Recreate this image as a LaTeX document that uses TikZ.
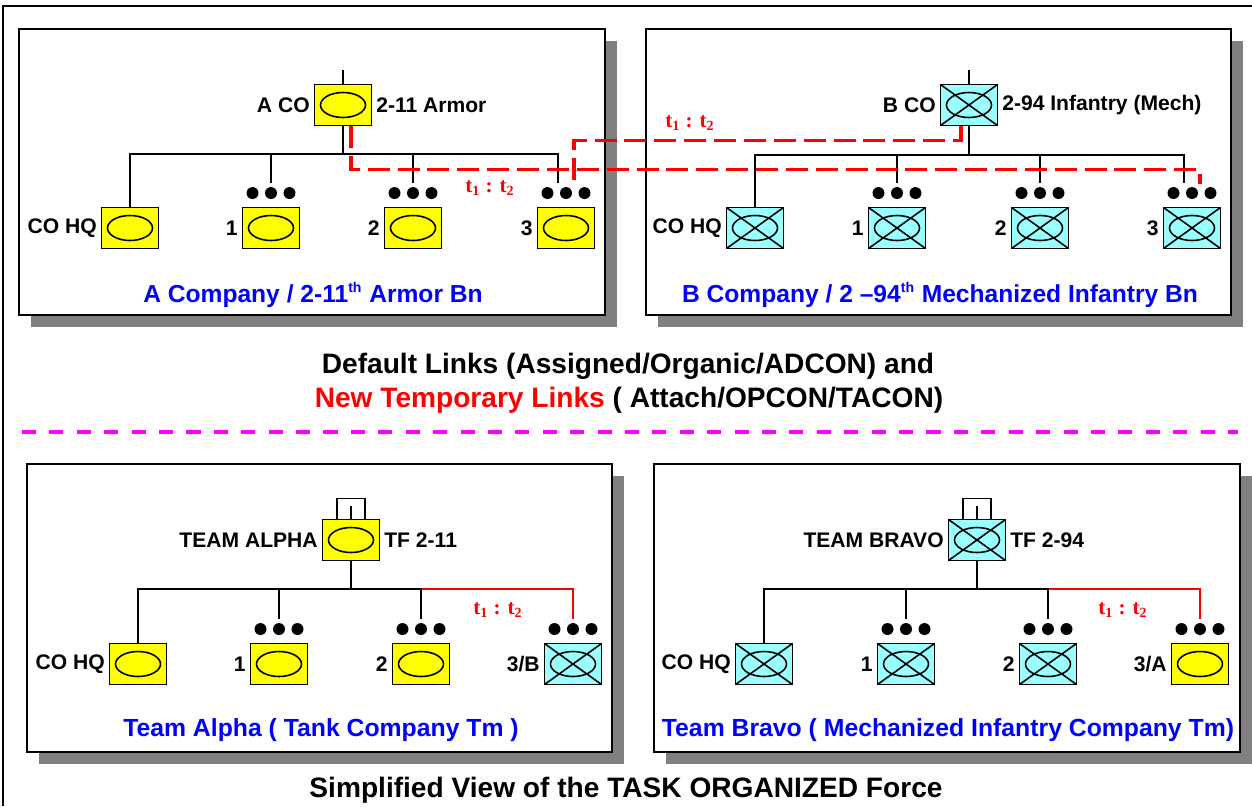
\documentclass[tikz,border=0pt]{standalone}
\usepackage{fontspec}
\setmainfont{Liberation Sans}
\newfontfamily\tfont{Liberation Serif}
\usetikzlibrary{calc}

\definecolor{armorcol}{RGB}{255,255,0}
\definecolor{mechcol}{RGB}{153,255,255}
\definecolor{shadowcol}{RGB}{128,128,128}
\definecolor{sepcol}{RGB}{255,0,255}

\newcommand{\tlabel}{{\tfont\bfseries t\textsubscript{1} : t\textsubscript{2}}}
\newcommand{\thsup}{\textsuperscript{\fontsize{8}{9}\selectfont th}}

\begin{document}
\begin{tikzpicture}[x=0.02cm,y=-0.02cm,font=\bfseries,
  unit/.style={draw,line width=1.1pt,minimum width=1.14cm,minimum height=0.82cm,inner sep=0},
  armor/.style={unit,fill=armorcol,path picture={
    \draw[line width=.9pt] (path picture bounding box.center) ellipse (0.45cm and 0.25cm);}},
  mech/.style={unit,fill=mechcol,path picture={
    \draw[line width=.9pt] (path picture bounding box.center) ellipse (0.45cm and 0.25cm);
    \draw[line width=.9pt] (path picture bounding box.north west) -- (path picture bounding box.south east);
    \draw[line width=.9pt] (path picture bounding box.south west) -- (path picture bounding box.north east);}},
  lbl/.style={font=\fontsize{12}{14}\selectfont\bfseries,inner sep=2pt},
  tree/.style={line width=1.6pt},
  tmplink/.style={red,line width=1.9pt,dash pattern=on 12.5pt off 4.5pt},
  newlink/.style={red,line width=1.4pt},
  panel/.style={draw,line width=1.5pt,fill=white},
  title/.style={blue,font=\fontsize{14}{17}\selectfont\bfseries},
  note/.style={font=\fontsize{16}{19}\selectfont\bfseries}]

\useasboundingbox (0,0) rectangle (1252,806);
\draw[line width=1pt] (3,806) -- (3,6) -- (1252,6);

% panels with shadows
\foreach \xa/\ya/\xb/\yb in {19/29/605/315, 646/29/1231/315, 27/464/612/752, 654/464/1240/752}{
  \fill[shadowcol] (\xa+12,\ya+12) rectangle (\xb+12,\yb+12);
  \draw[panel] (\xa,\ya) rectangle (\xb,\yb);
}

%% A Company
\node[armor,label={[lbl]left:A CO},label={[lbl]right:2-11 Armor}] (aco) at (343,105) {};
\node[armor,label={[lbl]left:CO HQ}] (ahq) at (130,228) {};
\node[armor,label={[lbl]left:1}] (a1) at (271,228) {};
\node[armor,label={[lbl]left:2}] (a2) at (413,228) {};
\node[armor,label={[lbl]left:3}] (a3) at (566,228) {};
\coordinate (abar) at (343,154);
\coordinate (a1end) at (271,183);
\coordinate (a2end) at (413,183);
\coordinate (a3end) at (558,183);

\draw[tree] (aco.north) -- ++(0,-14);
\draw[tree] (aco.south) -- (abar);
\draw[tree] (ahq.north) |- (abar) -| (a3end);
\draw[tree] (a1end) -- (a1end |- abar);
\draw[tree] (a2end) -- (a2end |- abar);

%% B Company
\node[mech,label={[lbl]left:B CO},label={[lbl]right:2-94 Infantry (Mech)}] (bco) at (969,105) {};
\node[mech,label={[lbl]left:CO HQ}] (bhq) at (755,228) {};
\node[mech,label={[lbl]left:1}] (b1) at (897,228) {};
\node[mech,label={[lbl]left:2}] (b2) at (1040,228) {};
\node[mech,label={[lbl]left:3}] (b3) at (1192,228) {};
\coordinate (bbar) at (969,155);
\coordinate (b1end) at (897,183);
\coordinate (b2end) at (1040,183);
\coordinate (b3end) at (1184,183);

\draw[tree] (bco.north) -- ++(0,-14);
\draw[tree] (bco.south) -- (bbar);
\draw[tree] (bhq.north) |- (bbar) -| (b3end);
\draw[tree] (b1end) -- (b1end |- bbar);
\draw[tree] (b2end) -- (b2end |- bbar);

% temporary links
\coordinate (a3tmp) at (574,185);
\coordinate (b3tmp) at (1200,184);
\draw[tmplink] ([xshift=.16cm]aco.south) -- ++(0,43) -| (b3tmp);
\draw[tmplink] ([xshift=-.16cm]bco.south) -- ++(0,14) -| (a3tmp);
\node[red,font=\fontsize{12}{14}\selectfont] (tt1) at (490,188) {\tlabel};
\node[red,font=\fontsize{12}{14}\selectfont] (tt2) at (690,123) {\tlabel};

\node[title] (atitle) at (313,295) {A Company / 2-11\thsup{} Armor Bn};
\node[title] (btitle) at (940,295) {B Company / 2 --94\thsup{} Mechanized Infantry Bn};

\node[note] (note1) at (628,366) {Default Links (Assigned/Organic/ADCON) and};
\node[note] (note2) at (629,400) {\textcolor{red}{New Temporary Links} ( Attach/OPCON/TACON)};
\draw[sepcol,line width=2pt,dash pattern=on 8pt off 7.6pt] (22,432) -- (1238,432);

%% Team Alpha
\node[armor,label={[lbl]left:TEAM ALPHA},label={[lbl]right:TF 2-11}] (tma) at (351,540) {};
\node[armor,label={[lbl]left:CO HQ}] (chq) at (138,664) {};
\node[armor,label={[lbl]left:1}] (c1) at (279,664) {};
\node[armor,label={[lbl]left:2}] (c2) at (421,664) {};
\node[mech,label={[lbl]left:3/B}] (c3) at (573,664) {};
\coordinate (cbar) at (351,589);
\coordinate (c1end) at (279,619);
\coordinate (c2end) at (421,619);
\coordinate (c3end) at (573,619);

\draw[line width=1pt] ([xshift=-.28cm]tma.north) -- ++(0,-20) -- ++(28,0) -- ++(0,20);
\draw[tree] (tma.north) -- ++(0,-13);
\draw[newlink] (cbar) -| (c3end);
\draw[tree] (tma.south) -- (cbar);
\draw[tree] (chq.north) |- (cbar) -| (c2end);
\draw[tree] (c1end) -- (c1end |- cbar);
\node[red,font=\fontsize{12}{14}\selectfont] (tt3) at (498,610) {\tlabel};
\node[title,font=\fontsize{14.1}{17}\selectfont\bfseries] (ctitle) at (321,730) {Team Alpha ( Tank Company Tm )};

%% Team Bravo
\node[mech,label={[lbl]left:TEAM BRAVO},label={[lbl]right:TF 2-94}] (tmb) at (977,540) {};
\node[mech,label={[lbl]left:CO HQ}] (dhq) at (764,664) {};
\node[mech,label={[lbl]left:1}] (d1) at (906,664) {};
\node[mech,label={[lbl]left:2}] (d2) at (1048,664) {};
\node[armor,label={[lbl]left:3/A}] (d3) at (1200,664) {};
\coordinate (dbar) at (977,589);
\coordinate (d1end) at (906,619);
\coordinate (d2end) at (1048,619);
\coordinate (d3end) at (1200,619);

\draw[line width=1pt] ([xshift=-.28cm]tmb.north) -- ++(0,-20) -- ++(28,0) -- ++(0,20);
\draw[tree] (tmb.north) -- ++(0,-13);
\draw[newlink] (dbar) -| (d3end);
\draw[tree] (tmb.south) -- (dbar);
\draw[tree] (dhq.north) |- (dbar) -| (d2end);
\draw[tree] (d1end) -- (d1end |- dbar);
\node[red,font=\fontsize{12}{14}\selectfont] (tt4) at (1123,610) {\tlabel};
\node[title,font=\fontsize{14.1}{17}\selectfont\bfseries] (dtitle) at (948,730) {Team Bravo ( Mechanized Infantry Company Tm)};

% platoon dots
\foreach \u in {a1,a2,a3,b1,b2,b3,c1,c2,c3,d1,d2,d3}
  \foreach \dx in {-1,0,1}
    \fill ([xshift=\dx*0.37cm,yshift=0.27cm]\u.north) circle (0.12cm);

\node[note] (foot) at (626,790) {Simplified View of the TASK ORGANIZED Force};

\end{tikzpicture}
\end{document}
